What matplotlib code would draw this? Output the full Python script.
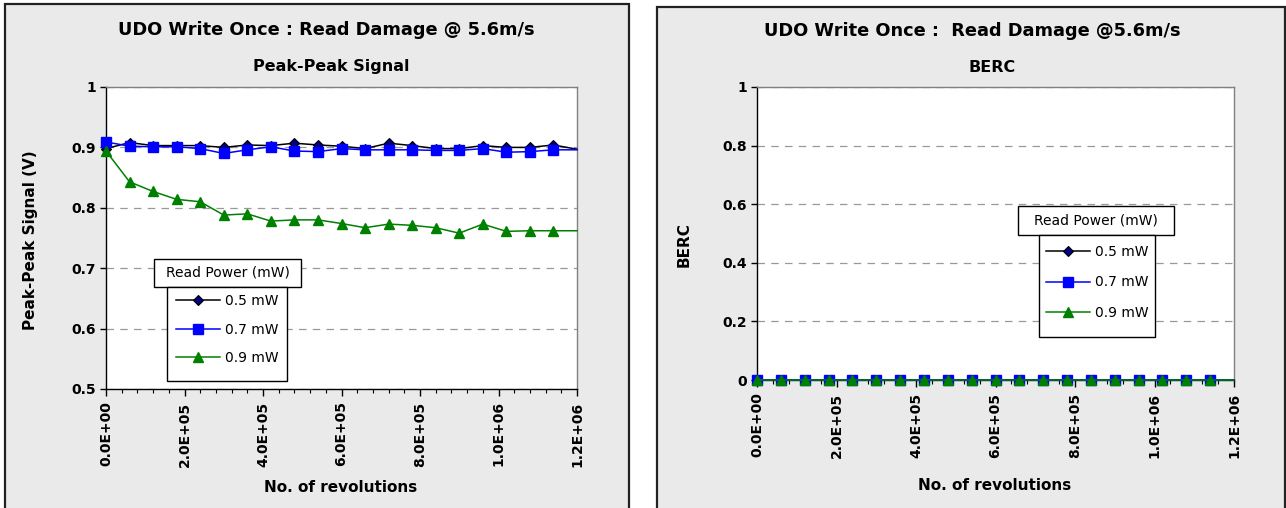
import matplotlib
matplotlib.use("Agg")
import matplotlib.pyplot as plt
from matplotlib.patches import Rectangle
from matplotlib.lines import Line2D
from matplotlib.ticker import MultipleLocator, FuncFormatter

# ---- data -------------------------------------------------------------
revolutions = [0, 60000, 120000, 180000, 240000, 300000, 360000, 420000,
               480000, 540000, 600000, 660000, 720000, 780000, 840000,
               900000, 960000, 1020000, 1080000, 1140000, 1200000]

series_labels = ["0.5 mW", "0.7 mW", "0.9 mW"]

pp_05 = [0.898, 0.908, 0.903, 0.903, 0.903, 0.900, 0.904, 0.903, 0.907, 0.904,
         0.902, 0.898, 0.907, 0.903, 0.898, 0.898, 0.903, 0.900, 0.900, 0.904, 0.897]
pp_07 = [0.909, 0.902, 0.901, 0.901, 0.898, 0.890, 0.896, 0.901, 0.894, 0.893,
         0.898, 0.896, 0.896, 0.896, 0.895, 0.895, 0.898, 0.892, 0.893, 0.896, 0.896]
pp_09 = [0.894, 0.843, 0.827, 0.814, 0.810, 0.788, 0.790, 0.778, 0.780, 0.780,
         0.774, 0.767, 0.773, 0.771, 0.767, 0.758, 0.773, 0.761, 0.762, 0.762, 0.762]

berc_05 = [0] * 21
berc_07 = [0] * 21
berc_09 = [0] * 21

x_ticks = [0, 200000, 400000, 600000, 800000, 1000000, 1200000]

# ---- styling ----------------------------------------------------------
W, H = 1286, 508
FONT = "DejaVu Sans"
plt.rcParams["font.family"] = FONT

styles = [
    dict(color="black", marker="D", markersize=5.4, markerfacecolor="#000080",
         markeredgecolor="black", markeredgewidth=0.8),
    dict(color="#0000ff", marker="s", markersize=7.2, markerfacecolor="#0000ff",
         markeredgecolor="#0000ff"),
    dict(color="#008000", marker="^", markersize=7.8, markerfacecolor="#008000",
         markeredgecolor="#008000"),
]

fig = plt.figure(figsize=(W / 100, H / 100), dpi=100)
fig.patch.set_facecolor("white")


def fx(x):
    return x / W


def fy(y):
    return 1 - y / H


def px_rect(x0, y0, x1, y1, **kw):
    r = Rectangle((fx(x0), fy(y1)), (x1 - x0) / W, (y1 - y0) / H,
                  transform=fig.transFigure, **kw)
    fig.add_artist(r)
    return r


# chart area panels
px_rect(5, 4, 629, 520, facecolor="#eaeaea", edgecolor="#222222", lw=1.6, zorder=-2)
px_rect(657, 7, 1285, 520, facecolor="#eaeaea", edgecolor="#222222", lw=1.6, zorder=-2)


def make_axes(x0, y0, x1, y1):
    ax = fig.add_axes([fx(x0), fy(y1), (x1 - x0) / W, (y1 - y0) / H])
    ax.set_facecolor("white")
    for side in ("top", "right"):
        ax.spines[side].set_color("#808080")
        ax.spines[side].set_linewidth(1.0)
    for side in ("left", "bottom"):
        ax.spines[side].set_color("black")
        ax.spines[side].set_linewidth(1.0)
    ax.set_xlim(0, 1200000)
    ax.set_xticks(x_ticks)
    ax.xaxis.set_minor_locator(MultipleLocator(40000))
    ax.xaxis.set_major_formatter(FuncFormatter(lambda v, p: f"{v:.1E}"))
    ax.tick_params(axis="x", which="major", direction="out", length=5, width=1,
                   pad=4, labelrotation=90, labelsize=10)
    ax.tick_params(axis="x", which="minor", direction="out", length=3, width=0.8)
    ax.tick_params(axis="y", which="major", direction="out", length=4, width=1,
                   pad=3, labelsize=10)
    ax.yaxis.grid(True, color="#999999", linestyle=(0, (6, 5)), linewidth=0.9)
    ax.set_axisbelow(True)
    return ax


def bold_ticklabels(ax):
    for lab in ax.get_xticklabels() + ax.get_yticklabels():
        lab.set_fontweight("bold")


def plot_series(ax, ys_list):
    lines = []
    for ys, st, lab in zip(ys_list, styles, series_labels):
        ln, = ax.plot(revolutions, ys, linewidth=1.1, clip_on=False, zorder=3,
                      markevery=list(range(len(revolutions) - 1)), label=lab, **st)
        lines.append(ln)
    return lines


def boxed_legend(title_box, entry_box, first_row, row_pitch, handle_x):
    # title box
    tx0, ty0, tx1, ty1 = title_box
    px_rect(tx0, ty0, tx1, ty1, facecolor="white", edgecolor="black", lw=1.0, zorder=5)
    fig.text(fx((tx0 + tx1) / 2), fy((ty0 + ty1) / 2), "Read Power (mW)",
             ha="center", va="center", fontsize=10, zorder=7)
    # entries box
    ex0, ey0, ex1, ey1 = entry_box
    px_rect(ex0, ey0, ex1, ey1, facecolor="white", edgecolor="black", lw=1.0, zorder=5)
    handles = [Line2D([], [], linewidth=1.1, **st) for st in styles]
    fs = 10
    fpx = fs * 100 / 72
    leg = fig.legend(handles, series_labels, loc="center left",
                     bbox_to_anchor=(fx(handle_x), fy(first_row + row_pitch)),
                     bbox_transform=fig.transFigure, frameon=False,
                     fontsize=fs, handlelength=3.2, handletextpad=0.35,
                     borderpad=0, borderaxespad=0,
                     labelspacing=(row_pitch - 1.16 * fpx) / fpx)
    leg.set_zorder(8)


# ---- left chart: peak-peak signal --------------------------------------
axL = make_axes(106, 87, 577, 389)
axL.set_ylim(0.5, 1.0)
axL.set_yticks([0.5, 0.6, 0.7, 0.8, 0.9, 1.0])
axL.yaxis.set_major_formatter(FuncFormatter(lambda v, p: f"{v:g}"))
bold_ticklabels(axL)
plot_series(axL, [pp_05, pp_07, pp_09])
boxed_legend((154, 259, 301, 287), (167, 287, 287, 381),
             first_row=299, row_pitch=30.5, handle_x=176)

fig.text(fx(326), fy(30), "UDO Write Once : Read Damage @ 5.6m/s",
         ha="center", va="center", fontsize=12.8, fontweight="bold")
fig.text(fx(331), fy(67), "Peak-Peak Signal", ha="center", va="center",
         fontsize=11.5, fontweight="bold")
fig.text(fx(31), fy(240), "Peak-Peak Signal (V)", ha="center", va="center",
         rotation=90, fontsize=11, fontweight="bold")
fig.text(fx(341), fy(488), "No. of revolutions", ha="center", va="center",
         fontsize=11, fontweight="bold")

# ---- right chart: BERC -------------------------------------------------
axR = make_axes(757, 87, 1234, 380)
axR.set_ylim(0, 1.0)
axR.set_yticks([0, 0.2, 0.4, 0.6, 0.8, 1.0])
axR.yaxis.set_major_formatter(FuncFormatter(lambda v, p: f"{v:g}"))
bold_ticklabels(axR)
plot_series(axR, [berc_05, berc_07, berc_09])
boxed_legend((1018, 206, 1174, 235), (1039, 235, 1155, 337),
             first_row=250, row_pitch=32.5, handle_x=1046)

fig.text(fx(972), fy(31), "UDO Write Once :  Read Damage @5.6m/s",
         ha="center", va="center", fontsize=12.8, fontweight="bold")
fig.text(fx(992), fy(67), "BERC", ha="center", va="center",
         fontsize=11.5, fontweight="bold")
fig.text(fx(684), fy(245), "BERC", ha="center", va="center",
         rotation=90, fontsize=11, fontweight="bold")
fig.text(fx(995), fy(485), "No. of revolutions", ha="center", va="center",
         fontsize=11, fontweight="bold")

fig.savefig("out.png", dpi=100, facecolor="white")
